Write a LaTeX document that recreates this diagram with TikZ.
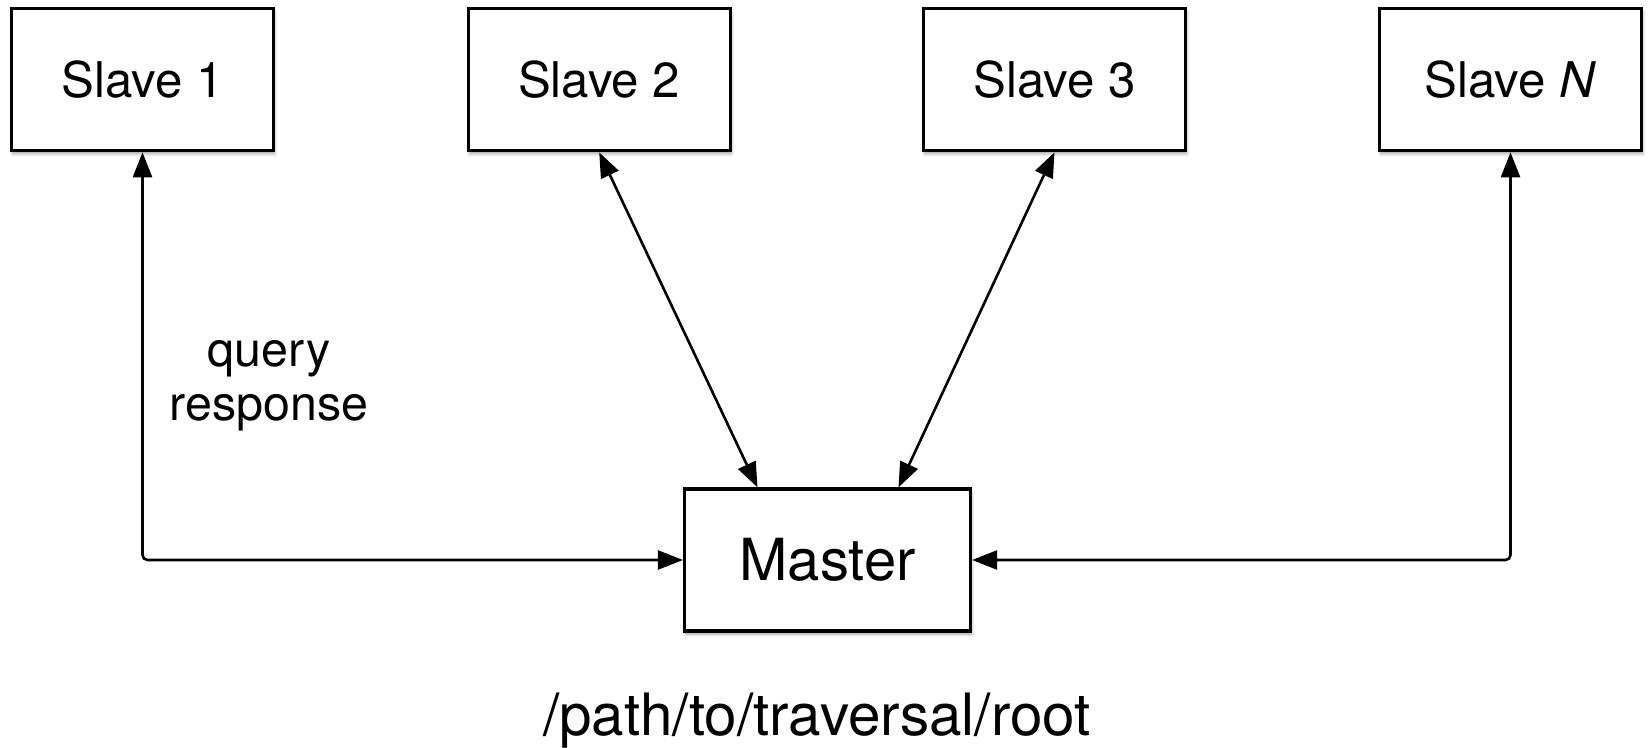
\documentclass[tikz,border=0pt]{standalone}
\usepackage{fontspec}
\setmainfont{TeX Gyre Heros}
\usetikzlibrary{arrows.meta,shadows.blur}
\begin{document}
\begin{tikzpicture}[x=0.5pt,y=-0.5pt,
  box/.style={draw=black, line width=1.6pt, fill=white,
    minimum width=131pt, minimum height=71pt, inner sep=0pt,
    font=\fontsize{24.6}{29}\selectfont,
    blur shadow={shadow xshift=0.6pt, shadow yshift=-1.6pt,
      shadow blur radius=1.6pt, shadow opacity=35}},
  master/.style={box, minimum width=143pt, font=\fontsize{29}{34}\selectfont},
  tip/.tip={Triangle[length=12.5pt,width=9.5pt]},
  link/.style={line width=1.3pt, tip-tip, rounded corners=2.5pt},
  lbl/.style={inner sep=0pt, anchor=base, font=\fontsize{24.2}{29}\selectfont}]
\useasboundingbox (0,0) rectangle (1649,748);

% slave machines
\node[box] (s1) at (142.5,79.7) {Slave 1};
\node[box] (s2) at (599.2,79.7) {Slave 2};
\node[box] (s3) at (1054.5,79.7) {Slave 3};
\node[box] (sN) at (1510.5,79.7) {Slave \textit{N}};

% master
\node[master] (m) at (827.5,560) {Master};

% query/response links
\draw[link] (s1.south) |- (m.west);
\draw[link] (sN.south) |- (m.east);
\draw[link] (s2.south) -- ([xshift=-35pt]m.north);
\draw[link] (s3.south) -- ([xshift=35.5pt]m.north);

% labels
\node[lbl] (q1) at (269,367) {query};
\node[lbl] (q2) at (269,421) {response};
\node[lbl, font=\fontsize{29.2}{35}\selectfont] (root) at (817,735) {/path/to/traversal/root};
\end{tikzpicture}
\end{document}
